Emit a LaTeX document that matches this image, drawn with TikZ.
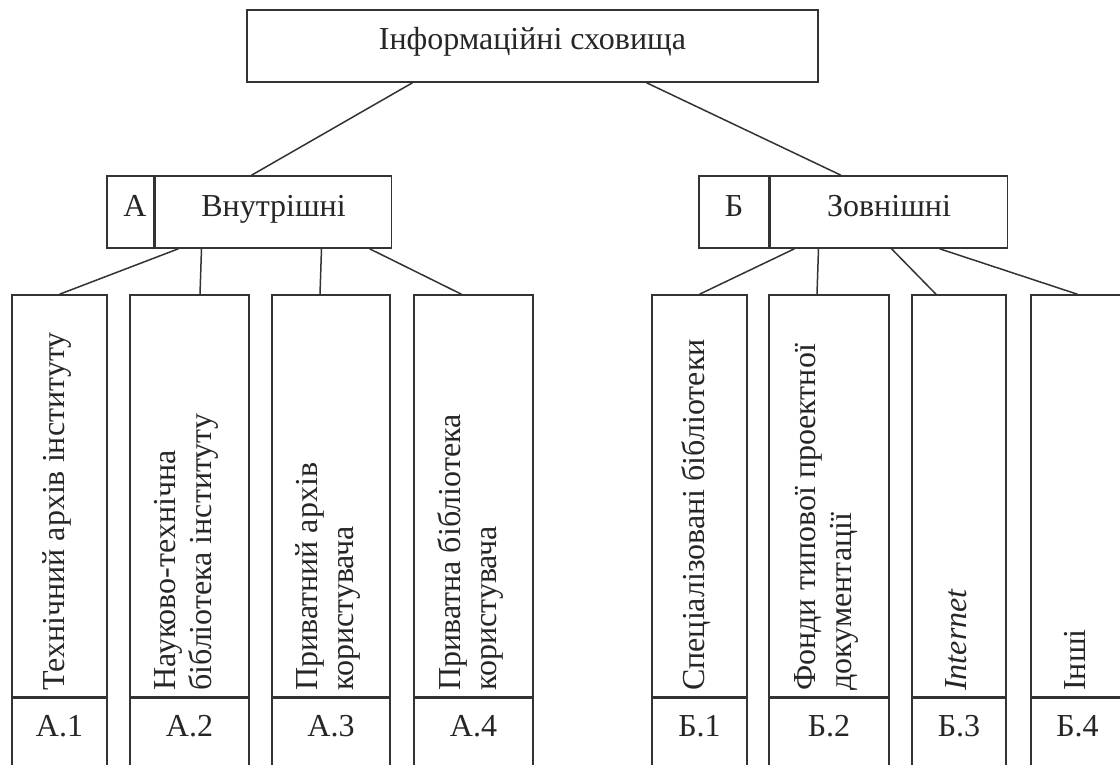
\documentclass[tikz,border=0pt]{standalone}
\usepackage{fontspec}
\setmainfont{Liberation Serif}
\usetikzlibrary{positioning}

\begin{document}
\begin{tikzpicture}[
        x=0.5pt, y=-0.5pt,
        every node/.style={font=\fontsize{16}{18}\selectfont, text=black!85},
        head/.style={
            draw=black!80, line width=0.75pt, minimum height=36pt,
            inner sep=0pt, text height=11pt, text depth=7pt
        },
        col/.style={
            draw=black!80, line width=0.75pt, minimum height=201pt, inner sep=0pt
        },
        cell/.style={
            draw=black!80, line width=0.75pt, minimum height=45pt,
            inner sep=0pt, text height=10pt, text depth=17pt
        },
        caption/.style={
            rotate=90, anchor=west, align=left,
            font=\rmfamily\fontsize{16}{18}\selectfont
        },
        link/.style={draw=black!80, line width=0.75pt},
        ]
        \useasboundingbox (0,0) rectangle (1120,765);
        \clip (0,0) rectangle (1120,765);
        \fill[white] (0,0) rectangle (1120,765);

        \node[head, minimum width=285.5pt] (stores) at (532.5,46) {Інформаційні сховища};
        \node[head, minimum width=23.5pt, text width=16pt, align=right] (intA) at (130.5,212) {А};
        \node[head, minimum width=118pt, right=0pt of intA] (intname) {Внутрішні};
        \node[head, minimum width=35pt] (extB) at (734,212) {Б};
        \node[head, minimum width=118.5pt, right=0pt of extB] (extname) {Зовнішні};

        % columns: name / x / width / code / text
        \foreach \n/\x/\w/\lab/\txt in {
            a1/59.5/47.5/А.1/{Технічний архів інституту},
            a2/189.5/59.5/А.2/{Науково-технічна\\бібліотека інституту},
            a3/331/59/А.3/{Приватний архів\\користувача},
            a4/473.5/59.5/А.4/{Приватна бібліотека\\користувача},
            b1/699.5/47.5/Б.1/{Спеціалізовані бібліотеки},
            b2/829/60/Б.2/{Фонди типової проектної\\документації},
            b3/959/47/Б.3/{\textit{Internet}},
            b4/1077.5/46.5/Б.4/{Інші}}
        {
            \node[col, minimum width=\w pt] (\n) at (\x,496) {};
            \node[cell, minimum width=\w pt, below=0pt of \n] (\n lab) {\lab};
            \node[caption] (\n txt) at ([xshift=-1.5pt]\n.south) {\txt};
        }

        \draw[link] ([xshift=-60pt]stores.south) -- ([xshift=-11pt]intname.north);
        \draw[link] ([xshift=57pt]stores.south) -- ([xshift=-24pt]extname.north);

        \draw[link] ([xshift=-47.5pt]intname.south) -- (a1.north);
        \draw[link] ([xshift=-36pt]intname.south) -- ([xshift=5.25pt]a2.north);
        \draw[link] ([xshift=24pt]intname.south) -- ([xshift=-5.5pt]a3.north);
        \draw[link] ([xshift=48pt]intname.south) -- ([xshift=-6pt]a4.north);

        \draw[link] ([xshift=-47.25pt]extname.south) -- (b1.north);
        \draw[link] ([xshift=-35.25pt]extname.south) -- ([xshift=-6pt]b2.north);
        \draw[link] ([xshift=1.25pt]extname.south) -- ([xshift=-11.5pt]b3.north);
        \draw[link] ([xshift=25.25pt]extname.south) -- (b4.north);
    \end{tikzpicture}
\end{document}
